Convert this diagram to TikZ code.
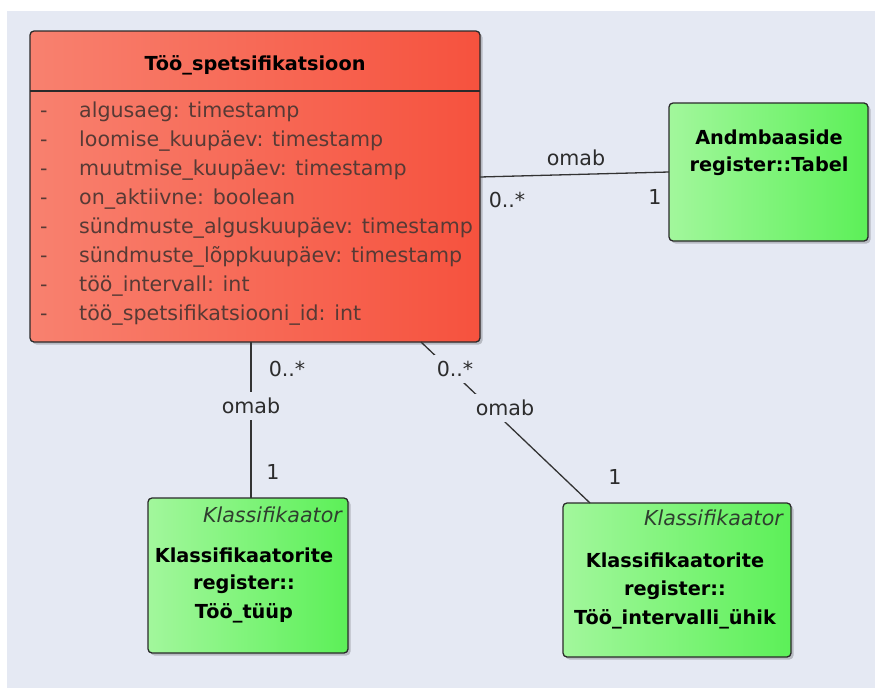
\documentclass[tikz,border=0pt]{standalone}
\usepackage{fontspec}
\setmainfont{DejaVu Sans}
\usetikzlibrary{calc,shadows}

\definecolor{canvas}{HTML}{E5E9F3}
\definecolor{boxline}{HTML}{2A2A2A}
\definecolor{redL}{HTML}{F8816F}
\definecolor{redR}{HTML}{F6523E}
\definecolor{grnL}{HTML}{A2F79C}
\definecolor{grnR}{HTML}{5CF058}
\definecolor{attrc}{HTML}{573A35}
\definecolor{labelc}{HTML}{2C2C2C}
\definecolor{stereoc}{HTML}{2F3F2F}
\definecolor{linkc}{HTML}{333333}

\begin{document}
\begin{tikzpicture}[x=1pt,y=-1pt,
  box/.style={draw=boxline, line width=1.3pt, rounded corners=4pt,
    inner sep=0pt, outer sep=0pt,
    drop shadow={shadow xshift=2.5pt, shadow yshift=-2.5pt, opacity=0.2, fill=black}},
  redbox/.style={box, left color=redL, right color=redR},
  greenbox/.style={box, left color=grnL, right color=grnR},
  classtitle/.style={font=\fontsize{19.3}{24}\bfseries\selectfont, text=black, inner sep=0pt},
  attr/.style={anchor=mid west, font=\fontsize{20.6}{24}\selectfont, text=attrc, inner sep=0pt},
  stereo/.style={anchor=mid east, font=\fontsize{20.6}{24}\itshape\selectfont, text=stereoc, inner sep=0pt},
  lbl/.style={font=\fontsize{20.6}{24}\selectfont, text=labelc, inner sep=0pt},
  cutlbl/.style={lbl, fill=canvas, inner xsep=3pt, inner ysep=6pt},
  link/.style={draw=linkc, line width=1.3pt}
]
% page and canvas
\useasboundingbox (0,0) rectangle (875,688);
\fill[white] (0,0) rectangle (875,688);
\fill[canvas] (7,11) rectangle (875,688);

% class boxes
\node[redbox, minimum width=450pt, minimum height=311pt] (spec) at (255,186.5) {};
\node[greenbox, minimum width=199pt, minimum height=138pt] (andm) at (768.5,172) {};
\node[greenbox, minimum width=200pt, minimum height=155pt] (tyyp) at (248,575.5) {};
\node[greenbox, minimum width=228pt, minimum height=154pt] (yhik) at (677,580) {};

% header compartment line
\draw[boxline, line width=1.3pt] ($(spec.north west)+(0,60)$) coordinate (hdl) -- ($(spec.north east)+(0,60)$) coordinate (hdr);

% class name and attributes
\node[classtitle] (spectitle) at (255,65) {Töö\_spetsifikatsioon};
\foreach \i/\t in {0/algusaeg: timestamp,
                   1/loomise\_kuupäev: timestamp,
                   2/muutmise\_kuupäev: timestamp,
                   3/on\_aktiivne: boolean,
                   4/sündmuste\_alguskuupäev: timestamp,
                   5/sündmuste\_lõppkuupäev: timestamp,
                   6/töö\_intervall: int,
                   7/töö\_spetsifikatsiooni\_id: int} {
  \node[attr] (dash\i) at (40,115+29*\i) {-};
  \node[attr] (attr\i) at (79,115+29*\i) {\t};
}

% Andmbaaside register
\node[classtitle] (andm1) at (769,137) {Andmbaaside};
\node[classtitle] (andm2) at (769,166) {register::Tabel};

% Klassifikaatorite register :: Töö_tüüp
\node[stereo] (tyyps) at (342,520) {Klassifikaator};
\node[classtitle] (tyyp1) at (244,555) {Klassifikaatorite};
\node[classtitle] (tyyp2) at (244,584) {register::};
\node[classtitle] (tyyp3) at (244,613) {Töö\_tüüp};

% Klassifikaatorite register :: Töö_intervalli_ühik
\node[stereo] (yhiks) at (783,523) {Klassifikaator};
\node[classtitle] (yhik1) at (675,560) {Klassifikaatorite};
\node[classtitle] (yhik2) at (675,590) {register::};
\node[classtitle] (yhik3) at (675,619) {Töö\_intervalli\_ühik};

% association to Tabel
\draw[link] ($(spec.north east)+(0,146)$) -- (andm.west);
\node[lbl] (om1) at (576,158) {omab};
\node[lbl] (m1a) at (507,200) {0..*};
\node[lbl] (m1b) at (655,197) {1};

% association to Töö_tüüp
\draw[link] ($(spec.south west)+(221,0)$) -- ($(tyyp.north)+(3,0)$);
\node[cutlbl] (om2) at (251,406) {omab};
\node[lbl] (m2a) at (287,369) {0..*};
\node[lbl] (m2b) at (273,472) {1};

% association to Töö_intervalli_ühik
\draw[link] ($(spec.south east)+(-59,0)$) -- ($(yhik.north west)+(27,0)$);
\node[cutlbl] (m3a) at (455,369) {0..*};
\node[cutlbl] (om3) at (505,408) {omab};
\node[lbl] (m3b) at (615,477) {1};
\end{tikzpicture}
\end{document}
